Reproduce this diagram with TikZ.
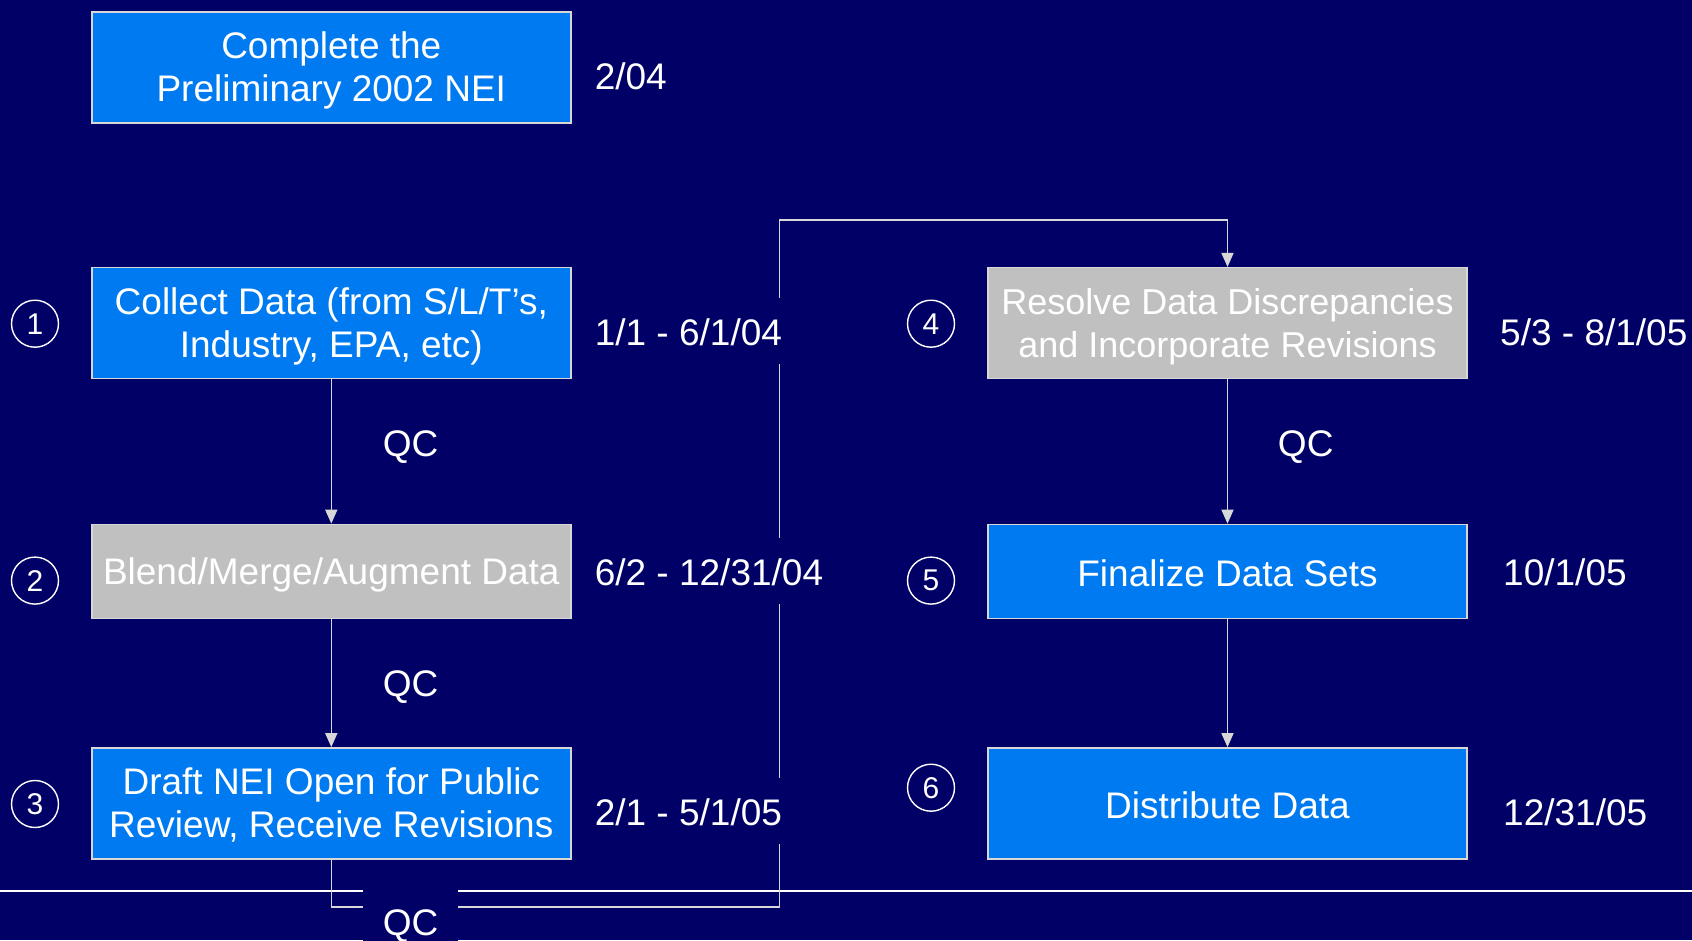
\documentclass[tikz,border=0pt]{standalone}
\usepackage{fontspec}
\setmainfont{Liberation Sans}
\usetikzlibrary{arrows.meta}
\definecolor{bg}{RGB}{0,0,102}
\definecolor{boxblue}{RGB}{0,122,240}
\definecolor{boxgray}{RGB}{192,192,192}
\definecolor{edgecol}{RGB}{215,215,215}
\newcommand\lowone[2]{\raisebox{-#1}[\height][\depth]{#2}}
\newcommand\lowtwo[2]{\raisebox{-#1}[\height][\depth]{\begin{tabular}{@{}c@{}}#2\end{tabular}}}
\begin{document}
\begin{tikzpicture}[x=1pt,y=-1pt,
  every node/.style={text=white, font=\fontsize{37}{43}\selectfont},
  box/.style={draw=edgecol, line width=1.5pt, minimum width=479pt, align=center, inner sep=0pt},
  bluebox/.style={box, fill=boxblue},
  graybox/.style={box, fill=boxgray},
  tallbox/.style={minimum height=111pt},
  shortbox/.style={minimum height=94pt},
  datelbl/.style={anchor=west, fill=bg, inner xsep=3pt, inner ysep=0pt, minimum height=66pt},
  qclbl/.style={inner sep=0pt},
  numc/.style={circle, draw=white, line width=1.4pt, minimum size=47pt, inner sep=0pt, font=\fontsize{30}{30}\selectfont},
  conn/.style={draw=edgecol, line width=1.6pt},
  arr/.style={conn, -{Triangle[length=14pt,width=12pt]}}
]
\fill[bg] (0,0) rectangle (1692,940);
\useasboundingbox (0,0) rectangle (1692,940);

% long rule
\draw[white, line width=2.4pt] (0,891) -- (1692,891);

% boxes
\node[bluebox, tallbox] (b0) at (331.3,67.5) {\lowtwo{4pt}{Complete the\\Preliminary 2002 NEI}};
\node[bluebox, tallbox] (b1) at (331.3,323.2) {\lowtwo{4pt}{Collect Data (from S/L/T’s,\\Industry, EPA, etc)}};
\node[graybox, shortbox] (b2) at (331.3,571.4) {\lowone{4pt}{Blend/Merge/Augment Data}};
\node[bluebox, tallbox] (b3) at (331.3,803.4) {\lowtwo{4pt}{Draft NEI Open for Public\\Review, Receive Revisions}};
\node[graybox, tallbox] (b4) at (1227.5,323.2) {\fontsize{36}{43}\selectfont\lowtwo{4.5pt}{Resolve Data Discrepancies\\and Incorporate Revisions}};
\node[bluebox, shortbox] (b5) at (1227.5,571.4) {\lowone{1.5pt}{Finalize Data Sets}};
\node[bluebox, tallbox] (b6) at (1227.5,803.4) {\lowone{1.5pt}{Distribute Data}};

% connectors
\coordinate (c1) at (779.3,907);
\coordinate (c2) at (779.3,220);
\draw[arr] (b1) -- (b2);
\draw[arr] (b2) -- (b3);
\draw[arr] (b4) -- (b5);
\draw[arr] (b5) -- (b6);
\draw[arr] (b3.south) -- (b3.south |- c1) -- (c1) -- (c2) -- (c2 -| b4.north) -- (b4.north);

% QC labels
\node[qclbl] (q1) at (410.5,447.5) {QC};
\node[qclbl] (q2) at (410.5,687) {QC};
\node[qclbl] (q4) at (1305.7,447.5) {QC};
\node[fill=bg, inner sep=0pt, minimum width=95pt, minimum height=66pt] (q3) at (410.5,923) {\lowone{3.5pt}{QC}};

% dates
\node[datelbl] (d0) at (591.6,75.5) {\lowone{1pt}{2/04}};
\node[datelbl] (d1) at (591.6,331) {\lowone{1pt}{1/1 - 6/1/04}};
\node[datelbl] (d2) at (591.6,571) {\lowone{1pt}{6/2 - 12/31/04}};
\node[datelbl] (d3) at (591.6,811) {\lowone{1pt}{2/1 - 5/1/05}};
\node[datelbl] (d4) at (1497,331) {\lowone{1pt}{5/3 - 8/1/05}};
\node[datelbl] (d5) at (1500,571) {\lowone{1pt}{10/1/05}};
\node[datelbl] (d6) at (1500,811) {\lowone{1pt}{12/31/05}};

% step numbers
\node[numc] (n1) at (35,323.7) {1};
\node[numc] (n2) at (35,580.6) {2};
\node[numc] (n3) at (35,804) {3};
\node[numc] (n4) at (931,323.7) {4};
\node[numc] (n5) at (931,580.6) {5};
\node[numc] (n6) at (931,787.7) {6};
\end{tikzpicture}
\end{document}
